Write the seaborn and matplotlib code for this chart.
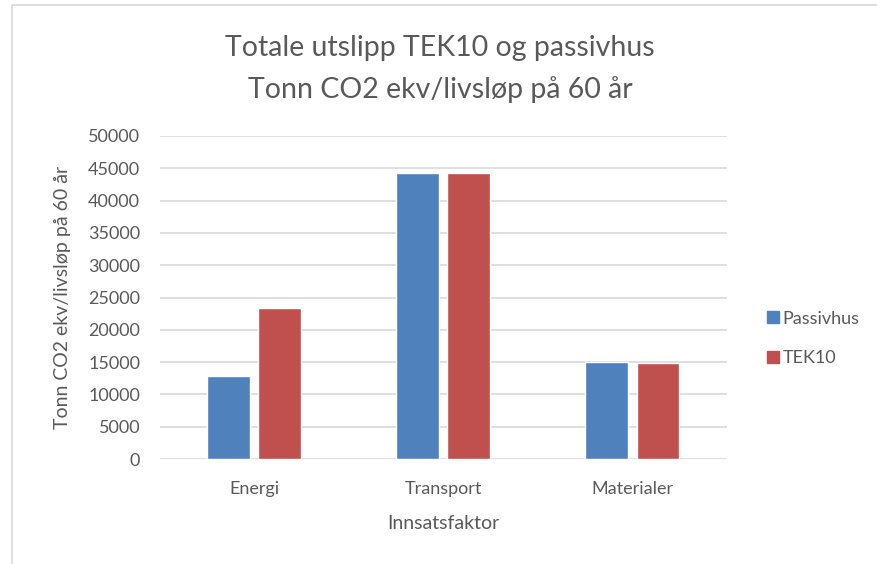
import numpy as np
import pandas as pd
import seaborn as sns
import matplotlib.pyplot as plt
from matplotlib.patches import Rectangle
from matplotlib.lines import Line2D

# data
kategorier = ['Energi', 'Transport', 'Materialer']
passivhus = [12800, 44200, 15000]
tek10 = [23400, 44200, 14800]
serier = ['Passivhus', 'TEK10']
farger = ['#4F81BD', '#C0504D']
yticks = list(range(0, 50001, 5000))

df = pd.DataFrame({
    'Innsatsfaktor': kategorier * 2,
    'Verdi': passivhus + tek10,
    'Serie': [serier[0]] * 3 + [serier[1]] * 3,
})

sns.set_style('white')
plt.rcParams['font.family'] = ['Lato', 'DejaVu Sans']

fig = plt.figure(figsize=(8.77, 5.64), dpi=100)
ax = fig.add_axes([0.182, 0.186, 0.647, 0.573])

# grå ramme rundt diagrammet
fig.patches.append(Rectangle((12 / 877, -0.05), 1.1, 1 - 5 / 564 + 0.05,
                             transform=fig.transFigure, fill=False,
                             edgecolor='#d9d9d9', linewidth=1.2))

sns.barplot(data=df, x='Innsatsfaktor', y='Verdi', hue='Serie',
            palette=farger, width=0.54, gap=0.16, ax=ax, legend=False,
            saturation=1)

ax.set_ylim(0, 50000)
ax.set_xlim(-0.5, 2.5)
ax.set_yticks(yticks)
ax.set_yticklabels([str(v) for v in yticks])
ax.yaxis.grid(True, color='#d9d9d9', linewidth=1.2)
ax.set_axisbelow(True)
for s in ax.spines.values():
    s.set_visible(False)
ax.tick_params(axis='y', labelsize=13, labelcolor='#595959', length=0, pad=14)
ax.tick_params(axis='x', labelsize=13, labelcolor='#595959', length=0, pad=16)

ax.set_xlabel('Innsatsfaktor', fontsize=14, color='#595959', labelpad=13)
ax.set_ylabel('Tonn CO2 ekv/livsløp på 60 år', fontsize=14, color='#595959', labelpad=12)

fig.text(0.502, 0.915, 'Totale utslipp TEK10 og passivhus', ha='center', va='center',
         fontsize=20.5, color='#595959')
fig.text(0.502, 0.842, 'Tonn CO2 ekv/livsløp på 60 år', ha='center', va='center',
         fontsize=20.5, color='#595959')

handles = [Line2D([], [], marker='s', linestyle='', markersize=9,
                  markerfacecolor=c, markeredgecolor=c) for c in farger]
fig.legend(handles, serier, loc='center left', bbox_to_anchor=(0.855, 0.40),
           frameon=False, fontsize=13, labelcolor='#595959',
           handletextpad=0.1, labelspacing=1.3, handlelength=0.8)

fig.savefig('out.png', dpi=100)
